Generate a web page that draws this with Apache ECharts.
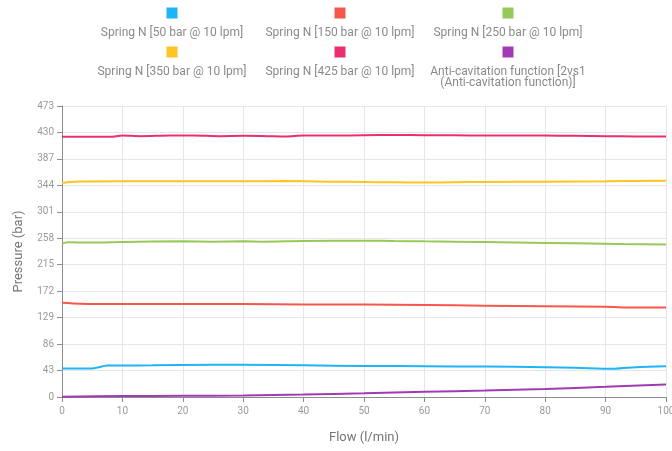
<!DOCTYPE html>
<html><head><meta charset="utf-8">
<script src="https://cdn.jsdelivr.net/npm/echarts@6/dist/echarts.min.js"></script>
<style>html,body{margin:0;padding:0;background:#fff}#c{width:672px;height:451px}</style>
</head><body><div id="c"></div>
<script>
const seriesNames = [
  'Spring N [50 bar @ 10 lpm]',
  'Spring N [150 bar @ 10 lpm]',
  'Spring N [250 bar @ 10 lpm]',
  'Spring N [350 bar @ 10 lpm]',
  'Spring N [425 bar @ 10 lpm]',
  'Anti-cavitation function [2vs1\n(Anti-cavitation function)]'
];
const colors = ['#1EB4F5', '#F5574A', '#96C957', '#FFC41F', '#EA2E6E', '#A33AB5'];

const flow50  = [0, 5, 7.5, 15, 25, 30, 40, 50, 60, 70, 80, 85, 91.5, 95, 100];
const press50 = [46.5, 46.5, 51, 51.5, 52.5, 52.5, 51.5, 50.5, 50, 49.5, 48.5, 47.5, 46, 48.5, 50];

const flow150  = [0, 3, 10, 20, 30, 40, 50, 60, 70, 80, 90, 95, 100];
const press150 = [153, 151.5, 151, 151, 151, 150.5, 150.5, 149.5, 148.5, 147.5, 146.5, 145.5, 145.5];

const flow250  = [0, 1, 5, 10, 20, 25, 30, 33, 40, 50, 55, 60, 70, 80, 90, 93, 100];
const press250 = [249, 251.5, 251, 252, 253, 252.5, 253, 252.5, 253.5, 254, 253.5, 253, 252, 250.5, 249, 248.5, 248];

const flow350  = [0, 2, 10, 20, 30, 37, 45, 50, 55, 60, 65, 70, 80, 90, 100];
const press350 = [348, 350, 350.5, 350.5, 350.5, 351, 350, 349.5, 349, 348.5, 349, 349.5, 350, 350.5, 351.5];

const flow425  = [0, 4, 8, 10, 13, 18, 22, 26, 30, 34, 37, 40, 45, 50, 55, 60, 65, 70, 75, 80, 85, 90, 95, 100];
const press425 = [423, 423, 423, 425, 424, 425, 425, 424, 424.5, 424, 423.5, 425, 425, 425.5, 426, 425.5, 425.5, 425, 425, 425, 424.5, 424, 423.5, 423.5];

const flowAC  = [0, 10, 20, 30, 40, 50, 60, 70, 80, 90, 100];
const pressAC = [0.5, 1.5, 2, 2.5, 4, 6, 8.5, 10.5, 13, 16.5, 20.5];

const yTicks = [0, 43, 86, 129, 172, 215, 258, 301, 344, 387, 430, 473];

const flows = [flow50, flow150, flow250, flow350, flow425, flowAC];
const presses = [press50, press150, press250, press350, press425, pressAC];

const rich = {
  t: { fontFamily: 'Roboto', fontSize: 12, color: '#8a8a8a', width: 158, align: 'center', lineHeight: 11 },
  sp: { width: 158, lineHeight: 6, height: 6, fontSize: 1 }
};
colors.forEach((c, i) => {
  rich['b' + i] = { width: 11, height: 11, lineHeight: 17, backgroundColor: c, align: 'center', fontSize: 1 };
});

function legendFormatter(name) {
  const i = seriesNames.indexOf(name);
  const parts = name.split('\n');
  if (i >= 3 && parts.length < 2) parts.push(' ');
  const lines = parts.map(l => '{t|' + l + '}').join('\n');
  return '{b' + i + '| }\n{sp| }\n' + lines;
}

function makeLegend(top, names) {
  return {
    top: top,
    left: 88,
    padding: 0,
    itemWidth: 0,
    itemHeight: 0,
    itemGap: 5,
    icon: 'rect',
    data: names,
    formatter: legendFormatter,
    textStyle: { rich: rich }
  };
}

const series = seriesNames.map((n, i) => ({
  name: n,
  type: 'line',
  data: flows[i].map((f, j) => [f, presses[i][j]]),
  showSymbol: false,
  smooth: 0.3,
  lineStyle: { width: 2, color: colors[i] },
  itemStyle: { color: colors[i] }
}));

const chart = echarts.init(document.getElementById('c'), null, { renderer: 'canvas' });
chart.setOption({
  animation: false,
  color: colors,
  legend: [makeLegend(7.5, seriesNames.slice(0, 3)), makeLegend(46.5, seriesNames.slice(3))],
  grid: { left: 62, right: 6, top: 106, bottom: 54, outerBoundsMode: 'none', containLabel: false },
  xAxis: {
    type: 'value',
    min: 0, max: 100, interval: 10,
    name: 'Flow (l/min)',
    nameLocation: 'middle',
    nameGap: 34,
    nameTextStyle: { fontFamily: 'Roboto', fontSize: 13, color: '#757575' },
    axisLine: { show: true, lineStyle: { color: '#8c8c8c', width: 1 } },
    axisTick: { show: true, length: 5, lineStyle: { color: '#8c8c8c' } },
    axisLabel: { fontFamily: 'Roboto', fontSize: 10, color: '#9a9a9a', margin: 9 },
    splitLine: { show: true, lineStyle: { color: '#e6e6e6', width: 1 } }
  },
  yAxis: {
    type: 'value',
    min: 0, max: 473, interval: 43,
    name: 'Pressure (bar)',
    nameLocation: 'middle',
    nameGap: 37,
    nameTextStyle: { fontFamily: 'Roboto', fontSize: 13, color: '#757575' },
    axisLine: { show: true, lineStyle: { color: '#8c8c8c', width: 1 } },
    axisTick: { show: true, length: 5, lineStyle: { color: '#8c8c8c' } },
    axisLabel: { fontFamily: 'Roboto', fontSize: 10, color: '#9a9a9a', margin: 8,
      formatter: v => yTicks.includes(v) ? String(v) : '' },
    splitLine: { show: true, lineStyle: { color: '#e6e6e6', width: 1 } }
  },
  series: series
});
</script></body></html>
